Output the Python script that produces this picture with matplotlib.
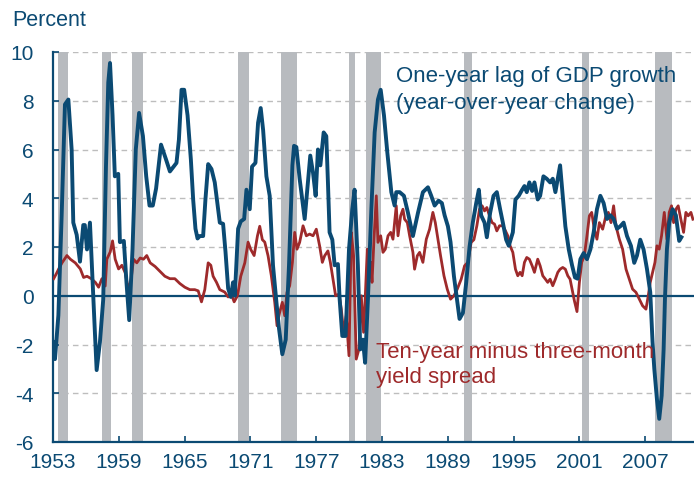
import matplotlib
matplotlib.use("Agg")
import matplotlib.pyplot as plt

# one-year lag of GDP growth (year-over-year change)
gdp_years = [
    1953.0, 1953.18, 1953.49, 1953.79, 1954.09, 1954.4, 1954.7, 1954.85, 1955.16, 1955.46,
    1955.76, 1955.9, 1956.1, 1956.37, 1956.61, 1956.82, 1956.98, 1957.28, 1957.58, 1957.83,
    1958.04, 1958.2, 1958.43, 1958.64, 1958.95, 1959.1, 1959.46, 1959.7, 1959.95, 1960.25,
    1960.55, 1960.85, 1961.2, 1961.5, 1961.8, 1962.1, 1962.4, 1962.85, 1963.3, 1963.66,
    1964.26, 1964.48, 1964.72, 1964.96, 1965.27, 1965.57, 1965.78, 1965.99, 1966.18, 1966.39,
    1966.69, 1966.9, 1967.15, 1967.45, 1967.75, 1968.21, 1968.51, 1968.73, 1968.97, 1969.21,
    1969.42, 1969.58, 1969.88, 1970.12, 1970.43, 1970.64, 1970.94, 1971.15, 1971.46, 1971.7,
    1971.94, 1972.16, 1972.46, 1972.76, 1973.06, 1973.37, 1973.61, 1973.91, 1974.22, 1974.52,
    1974.83, 1974.98, 1975.19, 1975.49, 1975.95, 1976.25, 1976.46, 1976.71, 1976.95, 1977.16,
    1977.38, 1977.68, 1977.92, 1978.07, 1978.22, 1978.47, 1978.68, 1978.98, 1979.14, 1979.38,
    1979.68, 1979.99, 1980.29, 1980.5, 1980.8, 1981.02, 1981.26, 1981.46, 1981.72, 1982.03,
    1982.33, 1982.63, 1982.88, 1983.18, 1983.48, 1983.85, 1984.15, 1984.3, 1984.61, 1985.0,
    1985.37, 1985.82, 1986.28, 1986.73, 1987.19, 1987.49, 1987.8, 1988.16, 1988.46, 1988.71,
    1989.01, 1989.25, 1989.56, 1989.86, 1990.07, 1990.38, 1990.68, 1990.98, 1991.28, 1991.59,
    1991.83, 1992.04, 1992.35, 1992.56, 1992.86, 1993.17, 1993.47, 1993.77, 1994.02, 1994.32,
    1994.56, 1994.93, 1995.17, 1995.47, 1995.78, 1995.99, 1996.2, 1996.44, 1996.69, 1996.9,
    1997.2, 1997.42, 1997.72, 1998.02, 1998.33, 1998.57, 1998.81, 1999.03, 1999.24, 1999.48,
    1999.72, 2000.03, 2000.33, 2000.6, 2000.84, 2001.09, 2001.39, 2001.69, 2002.0, 2002.3,
    2002.6, 2002.91, 2003.21, 2003.52, 2003.82, 2004.12, 2004.43, 2004.73, 2005.03, 2005.34,
    2005.7, 2006.0, 2006.25, 2006.55, 2006.85, 2007.16, 2007.46, 2007.67, 2007.83, 2008.07,
    2008.28, 2008.5, 2008.68, 2008.8, 2008.98, 2009.19, 2009.5, 2009.8, 2010.1, 2010.3,
]
gdp_growth = [
    -1.9, -2.6, -0.8, 3.3, 7.85, 8.05, 6.0, 3.0, 2.5, 1.4,
    2.9, 2.9, 1.9, 3.0, 0.55, -1.5, -3.05, -1.9, -0.15, 5.3,
    8.75, 9.55, 7.4, 4.9, 5.0, 2.2, 2.25, 0.55, -1.0, 1.9,
    6.0, 7.5, 6.55, 4.9, 3.7, 3.7, 4.4, 6.2, 5.6, 5.1,
    5.45, 6.4, 8.45, 8.45, 7.4, 5.6, 3.95, 2.75, 2.35, 2.45,
    2.45, 3.95, 5.4, 5.2, 4.65, 3.0, 2.95, 1.8, 0.3, -0.05,
    0.55, 0.0, 2.75, 3.05, 3.15, 4.35, 3.55, 5.3, 5.45, 7.1,
    7.7, 6.8, 4.9, 4.1, 1.25, -0.25, -1.35, -2.4, -1.8, 1.25,
    5.35, 6.15, 6.1, 4.8, 3.15, 4.65, 5.75, 5.05, 4.1, 6.0,
    5.35, 6.7, 6.55, 4.65, 2.6, 2.3, 1.25, 1.3, -0.15, -1.65,
    -1.65, 1.9, 3.55, 4.35, 1.25, -2.2, -1.8, -2.75, -0.1, 3.55,
    6.7, 8.05, 8.45, 7.4, 5.9, 4.25, 3.7, 4.25, 4.25, 4.1,
    3.4, 2.45, 3.4, 4.25, 4.45, 4.1, 3.7, 3.9, 3.8, 3.3,
    2.85, 2.2, 0.8, -0.25, -0.95, -0.7, 0.55, 2.0, 3.0, 3.8,
    4.35, 3.3, 3.0, 2.4, 3.4, 4.1, 4.25, 3.55, 3.0, 2.3,
    2.05, 2.6, 3.95, 4.1, 4.35, 4.5, 4.25, 4.65, 4.3, 4.65,
    3.95, 4.1, 4.9, 4.8, 4.65, 4.8, 4.25, 4.8, 5.35, 4.1,
    2.85, 1.9, 1.25, 0.75, 0.7, 1.5, 1.75, 1.5, 1.9, 2.6,
    3.55, 4.1, 3.8, 3.15, 3.3, 3.15, 2.75, 2.85, 3.0, 2.45,
    2.05, 1.35, 1.65, 2.3, 1.9, 1.1, 0.15, -1.9, -3.0, -4.25,
    -5.05, -4.1, -2.2, -0.15, 1.9, 3.0, 3.55, 3.3, 2.25, 2.4,
]

# ten-year minus three-month yield spread
spread_years = [
    1953.06, 1953.3, 1953.52, 1953.82, 1954.27, 1954.58, 1955.03, 1955.49, 1955.79, 1956.1,
    1956.49, 1956.86, 1957.16, 1957.46, 1957.76, 1957.91, 1958.22, 1958.43, 1958.67, 1958.98,
    1959.28, 1959.58, 1959.75, 1959.9, 1960.13, 1960.34, 1960.64, 1960.95, 1961.25, 1961.55,
    1961.86, 1962.31, 1962.75, 1963.2, 1963.66, 1964.11, 1964.57, 1965.02, 1965.48, 1965.93,
    1966.24, 1966.54, 1966.84, 1967.15, 1967.39, 1967.6, 1967.91, 1968.21, 1968.66, 1968.97,
    1969.27, 1969.52, 1969.82, 1970.12, 1970.49, 1970.79, 1971.03, 1971.34, 1971.64, 1971.85,
    1972.09, 1972.31, 1972.61, 1972.91, 1973.22, 1973.43, 1973.67, 1973.91, 1974.13, 1974.34,
    1974.58, 1974.83, 1975.04, 1975.25, 1975.49, 1975.8, 1976.1, 1976.4, 1976.71, 1977.01,
    1977.31, 1977.56, 1977.77, 1978.07, 1978.29, 1978.53, 1978.77, 1979.08, 1979.29, 1979.5,
    1979.74, 1979.99, 1980.2, 1980.41, 1980.65, 1980.9, 1981.11, 1981.32, 1981.45, 1981.66,
    1981.78, 1981.97, 1982.09, 1982.27, 1982.48, 1982.63, 1982.88, 1983.09, 1983.3, 1983.55,
    1983.79, 1984.0, 1984.3, 1984.46, 1984.7, 1984.91, 1985.06, 1985.31, 1985.52, 1985.82,
    1985.97, 1986.22, 1986.43, 1986.73, 1987.04, 1987.34, 1987.64, 1987.86, 1988.1, 1988.34,
    1988.65, 1988.95, 1989.25, 1989.56, 1989.86, 1990.22, 1990.53, 1990.83, 1991.13, 1991.38,
    1991.65, 1991.89, 1992.13, 1992.35, 1992.56, 1992.8, 1993.04, 1993.26, 1993.47, 1993.71,
    1994.02, 1994.26, 1994.47, 1994.68, 1994.93, 1995.17, 1995.38, 1995.59, 1995.78, 1995.99,
    1996.2, 1996.44, 1996.69, 1996.9, 1997.2, 1997.42, 1997.66, 1997.9, 1998.11, 1998.33,
    1998.57, 1998.81, 1999.03, 1999.24, 1999.48, 1999.72, 1999.94, 2000.15, 2000.33, 2000.54,
    2000.78, 2001.0, 2001.21, 2001.45, 2001.69, 2001.91, 2002.12, 2002.36, 2002.6, 2002.82,
    2003.12, 2003.42, 2003.64, 2003.88, 2004.12, 2004.33, 2004.64, 2004.94, 2005.25, 2005.55,
    2005.85, 2006.16, 2006.46, 2006.76, 2007.07, 2007.28, 2007.46, 2007.67, 2007.89, 2008.07,
    2008.28, 2008.49, 2008.74, 2008.98, 2009.19, 2009.4, 2009.59, 2009.8, 2010.01, 2010.25,
    2010.5, 2010.71, 2010.92, 2011.17, 2011.35,
]
yield_spread = [
    0.7, 0.9, 1.1, 1.35, 1.65, 1.5, 1.35, 1.1, 0.75, 0.8,
    0.7, 0.55, 0.35, 0.7, 0.4, 1.5, 1.8, 2.25, 1.5, 1.1,
    1.25, 0.95, 0.55, 0.2, 0.7, 1.5, 1.35, 1.55, 1.5, 1.65,
    1.35, 1.2, 1.0, 0.8, 0.7, 0.7, 0.5, 0.35, 0.25, 0.25,
    0.2, -0.25, 0.25, 1.35, 1.25, 0.8, 0.55, 0.25, 0.15, -0.05,
    0.05, -0.25, 0.0, 0.8, 1.35, 2.2, 1.9, 1.65, 2.45, 2.85,
    2.3, 2.2, 1.64, 0.82, -0.27, -1.23, -0.68, -0.27, -0.82, 0.14,
    0.41, 1.37, 2.6, 1.91, 2.19, 2.87, 2.46, 2.53, 2.46, 2.73,
    2.05, 1.37, 1.64, 1.84, 1.37, 0.68, 0.0, 0.07, -0.55, -1.5,
    -0.82, -2.46, 2.6, 1.64, -2.6, -2.19, 0.0, -1.5, -0.3, 1.91,
    0.68, 1.37, 0.55, 2.32, 4.1, 2.19, 2.46, 1.78, 1.91, 2.46,
    2.6, 2.32, 3.69, 2.46, 3.28, 3.55, 3.14, 3.0, 2.46, 1.78,
    1.09, 1.64, 1.78, 1.37, 2.32, 2.73, 3.42, 3.0, 2.32, 1.64,
    0.82, 0.27, -0.14, 0.0, 0.27, 0.68, 1.23, 1.37, 2.19, 2.3,
    2.87, 3.55, 3.69, 3.48, 3.62, 3.28, 3.0, 2.94, 2.66, 2.87,
    2.87, 2.66, 2.46, 2.05, 1.78, 1.09, 0.82, 0.96, 0.82, 1.37,
    1.57, 1.5, 1.23, 0.96, 1.5, 1.23, 0.82, 0.68, 0.55, 0.68,
    0.41, 0.68, 0.96, 1.09, 1.16, 1.09, 0.82, 0.68, 0.27, -0.2,
    -0.65, 0.55, 1.37, 1.64, 2.46, 3.28, 3.42, 2.73, 2.32, 3.0,
    2.73, 3.28, 3.42, 3.0, 3.69, 2.87, 2.32, 1.91, 1.09, 0.68,
    0.27, 0.14, -0.14, -0.41, -0.55, 0.0, 0.55, 0.96, 1.37, 2.05,
    1.91, 2.46, 3.42, 2.32, 3.42, 3.69, 3.0, 3.55, 3.69, 3.14,
    2.6, 3.42, 3.28, 3.42, 3.14,
]

# recessions (start, end)
recession_start = [1953.5, 1957.5, 1960.2, 1969.9, 1973.8, 1979.95, 1981.5, 1990.45, 2001.2, 2007.92]
recession_end = [1954.37, 1958.3, 1961.17, 1970.88, 1975.27, 1980.55, 1982.88, 1991.23, 2001.9, 2009.47]

year_ticks = [1953, 1959, 1965, 1971, 1977, 1983, 1989, 1995, 2001, 2007]
value_ticks = [-6, -4, -2, 0, 2, 4, 6, 8, 10]

BLUE = "#0b4a73"
RED = "#9e2a2b"
GRAY = "#b8bbbf"
AXIS = "#0b4a73"

plt.rcParams["font.family"] = ["Liberation Sans", "DejaVu Sans"]
plt.rcParams["axes.unicode_minus"] = False

fig = plt.figure(figsize=(6.94, 4.81), dpi=100)
ax = fig.add_axes([53 / 694, 1 - 443 / 481, 1 - 53 / 694, (443 - 53) / 481])

for s, e in zip(recession_start, recession_end):
    ax.axvspan(s, e, color=GRAY, lw=0, zorder=1)

for v in value_ticks:
    if v not in (0, -6):
        ax.axhline(v, color="#bdbdbd", lw=1.0, ls=(0, (4, 3)), zorder=0.5)
ax.axhline(0, color=AXIS, lw=1.6, zorder=2)

ax.plot(spread_years, yield_spread, color=RED, lw=2.0, zorder=3, solid_joinstyle="round")
ax.plot(gdp_years, gdp_growth, color=BLUE, lw=2.8, zorder=4, solid_joinstyle="round")

ax.set_xlim(1953, 2011.45)
ax.set_ylim(-6, 10)
ax.set_xticks(year_ticks)
ax.set_yticks(value_ticks)
ax.set_xticklabels([str(y) for y in year_ticks])
ax.set_yticklabels([str(v) for v in value_ticks])

for side in ("top", "right"):
    ax.spines[side].set_visible(False)
for side in ("left", "bottom"):
    ax.spines[side].set_color(AXIS)
    ax.spines[side].set_linewidth(1.6)

ax.tick_params(axis="x", direction="in", length=4, width=1.2, color=AXIS,
               labelcolor=AXIS, labelsize=15, pad=7)
ax.tick_params(axis="y", direction="in", length=4, width=1.2, color=AXIS,
               labelcolor=AXIS, labelsize=15, pad=14)

fig.text(12 / 694, 1 - 20 / 481, "Percent", color=AXIS, fontsize=15.5, va="center", ha="left")

ax.text(1984.3, 8.8, "One-year lag of GDP growth", color=BLUE, fontsize=16, va="baseline", zorder=5)
ax.text(1984.3, 7.72, "(year-over-year change)", color=BLUE, fontsize=16, va="baseline", zorder=5)
ax.text(1982.42, -2.53, "Ten-year minus three-month", color=RED, fontsize=16, va="baseline", zorder=5)
ax.text(1982.42, -3.55, "yield spread", color=RED, fontsize=16, va="baseline", zorder=5)

fig.savefig("out.png", dpi=100)
